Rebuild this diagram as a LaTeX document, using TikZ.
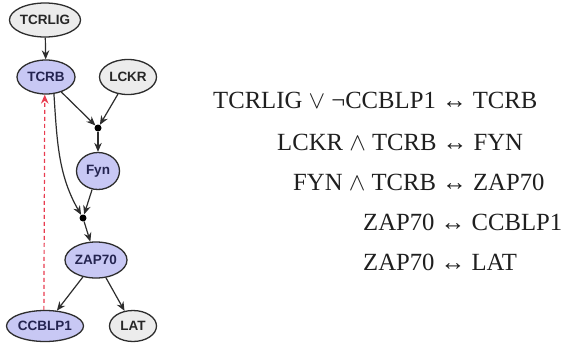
\documentclass[tikz,border=0pt]{standalone}
\usepackage{fontspec}
\setmainfont{Liberation Serif}
\newfontfamily\genefont{Liberation Sans}
\usetikzlibrary{shapes.geometric,arrows.meta}

\definecolor{activefill}{RGB}{200,200,244}
\definecolor{idlefill}{RGB}{236,236,236}
\definecolor{activetext}{RGB}{36,36,80}
\definecolor{edgecol}{RGB}{45,45,45}
\definecolor{inhibcol}{RGB}{232,60,80}

\tikzset{
  gene/.style={ellipse, draw=edgecol, line width=1.3pt, inner sep=0pt,
    font=\genefont\bfseries\fontsize{13.5}{14}\selectfont},
  active/.style={gene, fill=activefill, text=activetext},
  idle/.style={gene, fill=idlefill, text=black!85},
  junction/.style={circle, fill=black, inner sep=0pt, minimum size=7pt},
  link/.style={draw=edgecol, line width=1.2pt, -{Stealth[length=9pt,width=7.5pt]}},
  inhib/.style={draw=inhibcol, line width=1.2pt, dash pattern=on 4pt off 3pt,
    -{Stealth[length=9pt,width=7.5pt]}},
  rule/.style={anchor=base west, font=\fontsize{24.7}{26}\selectfont, text=black!88, inner sep=0pt}
}

\begin{document}
\begin{tikzpicture}[x=1pt,y=-1pt]
\useasboundingbox[fill=white] (0,0) rectangle (562,351);

% network nodes
\node[idle,   minimum width=70pt, minimum height=34pt] (TCRLIG) at (45,20)  {TCRLIG};
\node[active, minimum width=58pt, minimum height=34pt] (TCRB)   at (46,77)  {TCRB};
\node[idle,   minimum width=57pt, minimum height=35pt] (LCKR)   at (128,77) {LCKR};
\node[active, minimum width=43pt, minimum height=37pt] (Fyn)    at (98,171) {Fyn};
\node[active, minimum width=62pt, minimum height=36pt] (ZAP70)  at (96,260) {ZAP70};
\node[active, minimum width=77pt, minimum height=31pt] (CCBLP1) at (45,326) {CCBLP1};
\node[idle,   minimum width=47pt, minimum height=31pt] (LAT)    at (133,326){LAT};

% conjunction points
\node[junction] (and1) at (98,128) {};
\node[junction] (and2) at (83,218) {};

% activating edges
\draw[link] (TCRLIG) -- (TCRB);
\draw[link] (TCRB) -- (and1);
\draw[link] (LCKR) -- (and1);
\draw[link] (and1) -- (Fyn);
\draw[link] (TCRB.-65) .. controls (57,140) and (58,175) .. (and2);
\draw[link] (Fyn) -- (and2);
\draw[link] (and2) -- (ZAP70);
\draw[link] (ZAP70) -- (CCBLP1);
\draw[link] (ZAP70) -- (LAT);

% inhibiting edge
\draw[inhib] (CCBLP1.94) -- (TCRB.266);

% update rules
\node[rule] (r1) at (213,108) {TCRLIG $\vee$ ¬CCBLP1 ↔ TCRB};
\node[rule] (r2) at (277,150) {LCKR $\wedge$ TCRB ↔ FYN};
\node[rule] (r3) at (293,190) {FYN $\wedge$ TCRB ↔ ZAP70};
\node[rule] (r4) at (363,230) {ZAP70 ↔ CCBLP1};
\node[rule] (r5) at (363,270) {ZAP70 ↔ LAT};
\end{tikzpicture}
\end{document}
